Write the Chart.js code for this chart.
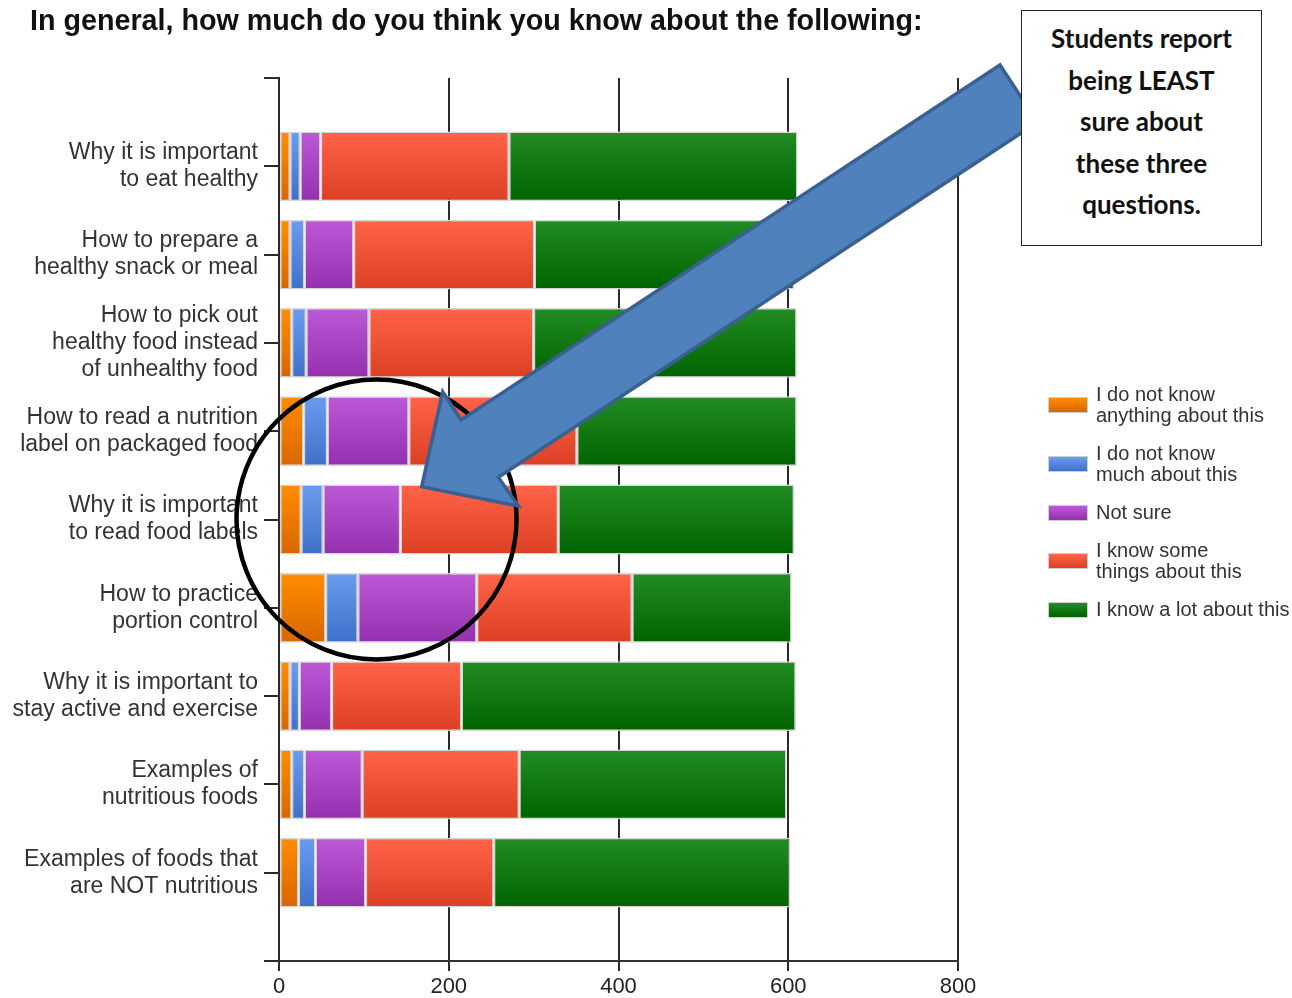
<!DOCTYPE html>
<html>
<head>
<meta charset="utf-8">
<title>Nutrition knowledge survey</title>
<script src="https://cdn.jsdelivr.net/npm/chart.js@4/dist/chart.umd.min.js"></script>
<style>
  html, body { margin: 0; padding: 0; background: #fff; }
  #wrap { position: relative; width: 1292px; height: 998px; overflow: hidden; }
  #chart { position: absolute; left: 0; top: 0; }
  #title {
    position: absolute; left: 30px; top: 6px; white-space: nowrap;
    font: bold 28.7px "Liberation Sans", Arial, sans-serif; line-height: 29px; color: #111;
  }
  #marks { position: absolute; left: 0; top: 0; pointer-events: none; }
  #callout {
    position: absolute; left: 1021px; top: 10px; width: 241px; height: 236px;
    box-sizing: border-box; border: 1.2px solid #222; background: #fff;
    text-align: center; font: bold 26px Lato, "Open Sans", sans-serif; color: #111;
    line-height: 41.5px; padding-top: 7px;
  }
  .lg { position: absolute; left: 1048px; display: flex; align-items: center;
        font: 20px "Liberation Sans", Arial, sans-serif; line-height: 21.5px; color: #333; }
  .sw { width: 38px; height: 14px; border: 1px solid #cfcfcf; margin-right: 8px; flex: none; }
</style>
</head>
<body>
<div id="wrap">
  <canvas id="chart" width="1292" height="998"></canvas>
  <svg id="marks" width="1292" height="998" viewBox="0 0 1292 998"></svg>
  <div id="title">In general, how much do you think you know about the following:</div>
  <div id="callout">Students report<br>being LEAST<br>sure about<br>these three<br>questions.</div>
  <div id="legend"></div>
</div>
<script>
// Survey questions (one per bar, top to bottom)
const categories = [
  ['Why it is important', 'to eat healthy'],
  ['How to prepare a', 'healthy snack or meal'],
  ['How to pick out', 'healthy food instead', 'of unhealthy food'],
  ['How to read a nutrition', 'label on packaged food'],
  ['Why it is important', 'to read food labels'],
  ['How to practice', 'portion control'],
  ['Why it is important to', 'stay active and exercise'],
  ['Examples of', 'nutritious foods'],
  ['Examples of foods that', 'are NOT nutritious']
];

// Response counts per question
const knowNothing = [13, 13, 15, 29, 26, 55, 13, 15, 23];
const knowLittle  = [12, 17, 17, 28, 26, 38, 11, 15, 20];
const notSure     = [24, 58, 74, 96, 91, 140, 38, 68, 59];
const knowSome    = [222, 213, 194, 198, 186, 183, 153, 185, 151];
const knowALot    = [340, 306, 310, 259, 278, 188, 394, 315, 349];

const seriesNames = [
  ['I do not know', 'anything about this'],
  ['I do not know', 'much about this'],
  ['Not sure'],
  ['I know some', 'things about this'],
  ['I know a lot about this']
];

const xTicks = [0, 200, 400, 600, 800];

const palette = [
  ['#ff8d00', '#d86600'],
  ['#6a9cee', '#3f70c9'],
  ['#bd58d6', '#942fae'],
  ['#ff6448', '#dc4024'],
  ['#238c23', '#006400']
];

const BAR_PCT = 0.79;

function gradientFill(top, bottom) {
  return (ctx) => {
    const chart = ctx.chart;
    if (!chart.chartArea || !ctx.raw) return bottom;
    const ys = chart.scales.y;
    const c = ys.getPixelForValue(ctx.raw.y);
    const half = Math.abs(ys.getPixelForValue(1) - ys.getPixelForValue(0)) * BAR_PCT / 2;
    const g = chart.ctx.createLinearGradient(0, c - half, 0, c + half);
    g.addColorStop(0, top);
    g.addColorStop(1, bottom);
    return g;
  };
}

const allSeries = [knowNothing, knowLittle, notSure, knowSome, knowALot];
const datasets = allSeries.map((vals, s) => ({
  label: seriesNames[s].join(' '),
  data: vals.map((v, i) => ({ x: v, y: i })),
  backgroundColor: gradientFill(palette[s][0], palette[s][1]),
  borderColor: '#d6d6d6',
  borderWidth: 1.5,
  borderSkipped: false,
  categoryPercentage: 1,
  barPercentage: BAR_PCT
}));

new Chart(document.getElementById('chart'), {
  type: 'bar',
  data: { datasets },
  options: {
    indexAxis: 'y',
    responsive: false,
    animation: false,
    layout: { padding: { top: 78, right: 334, bottom: 0, left: 0 } },
    plugins: { legend: { display: false }, tooltip: { enabled: false } },
    scales: {
      x: {
        type: 'linear',
        stacked: true,
        min: 0, max: 800,
        afterFit: (s) => { s.height = 37; },
        afterBuildTicks: (s) => { s.ticks = xTicks.map(v => ({ value: v })); },
        grid: { color: '#2a2a2a', lineWidth: 2, drawTicks: true, tickLength: 10 },
        border: { display: true, color: '#333', width: 2 },
        ticks: {
          padding: 3,
          color: '#222',
          font: { family: '"Liberation Sans", Arial, sans-serif', size: 22 }
        }
      },
      y: {
        type: 'linear',
        stacked: true,
        reverse: true,
        offset: false,
        min: -1, max: categories.length,
        afterFit: (s) => { s.width = 279; },
        grid: { offset: false, drawOnChartArea: false, drawTicks: true, tickLength: 15, color: '#2a2a2a', lineWidth: 2 },
        border: { display: true, color: '#2a2a2a', width: 2 },
        ticks: {
          stepSize: 1,
          autoSkip: false,
          padding: 6,
          color: '#333',
          font: { family: '"Liberation Sans", Arial, sans-serif', size: 23, lineHeight: '27px' },
          callback: (v) => categories[v] || ''
        }
      }
    }
  }
});

// Legend
const legend = document.getElementById('legend');
const legendCenters = [405, 464, 513, 561, 610];
seriesNames.forEach((name, s) => {
  const item = document.createElement('div');
  item.className = 'lg';
  const sw = document.createElement('div');
  sw.className = 'sw';
  sw.style.background = `linear-gradient(${palette[s][0]}, ${palette[s][1]})`;
  const txt = document.createElement('div');
  txt.innerHTML = name.join('<br>');
  item.appendChild(sw);
  item.appendChild(txt);
  legend.appendChild(item);
  item.style.top = (legendCenters[s] - item.offsetHeight / 2) + 'px';
});

// Highlight circle and pointer arrow
const svgNS = 'http://www.w3.org/2000/svg';
const marks = document.getElementById('marks');
const circle = document.createElementNS(svgNS, 'circle');
circle.setAttribute('cx', 376.5);
circle.setAttribute('cy', 519.5);
circle.setAttribute('r', 140);
circle.setAttribute('fill', 'none');
circle.setAttribute('stroke', '#000');
circle.setAttribute('stroke-width', 4.5);
marks.appendChild(circle);

const arrow = document.createElementNS(svgNS, 'polygon');
arrow.setAttribute('points',
  '421.7,486.7 442.7,391.7 461,420 1000,65 1037.6,122.2 498.3,477.3 518.3,506');
arrow.setAttribute('fill', '#4f81bd');
arrow.setAttribute('stroke', '#3a6091');
arrow.setAttribute('stroke-width', 3.5);
arrow.setAttribute('stroke-linejoin', 'miter');
marks.appendChild(arrow);
</script>
</body>
</html>
